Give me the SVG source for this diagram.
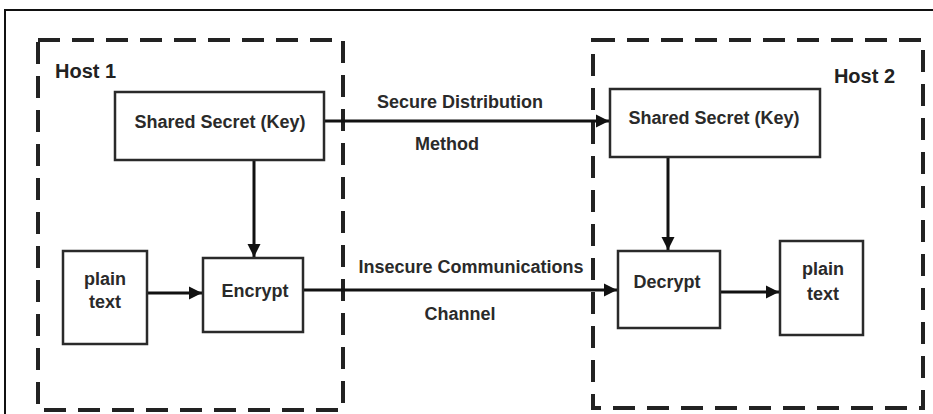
<svg xmlns="http://www.w3.org/2000/svg" width="933" height="414" viewBox="0 0 933 414">
<defs>
<style>
.box{fill:#fff;stroke:#2a2a2a;stroke-width:2.5}
.host{fill:none;stroke:#222;stroke-width:4;stroke-dasharray:22 12}
.t{font-family:"Liberation Sans",Arial,sans-serif;font-weight:bold;font-size:18px;fill:#2a2a2a;text-anchor:middle}
.h{font-family:"Liberation Sans",Arial,sans-serif;font-weight:bold;font-size:20px;fill:#222}
.c{stroke:#111;stroke-width:3;fill:none;marker-end:url(#ah)}
</style>
<marker id="ah" viewBox="0 0 10 10" refX="10" refY="5" markerWidth="4.5" markerHeight="4.5" markerUnits="strokeWidth" orient="auto">
<path d="M0,0 L10,5 L0,10 z" fill="#111"/>
</marker>
</defs>
<rect width="933" height="414" fill="#fff"/>
<path d="M5,414 V10 H933" fill="none" stroke="#111" stroke-width="2"/>
<g id="host1">
<rect class="host" x="38" y="40" width="305" height="370"/>
<text class="h" x="55" y="78">Host 1</text>
</g>
<g id="host2">
<rect class="host" x="593" y="40" width="330" height="368"/>
<text class="h" x="895" y="83" text-anchor="end">Host 2</text>
</g>
<g id="connectors">
<line class="c" x1="324" y1="121" x2="609" y2="121"/>
<line class="c" x1="254" y1="160" x2="254" y2="257"/>
<line class="c" x1="147" y1="293" x2="202" y2="293"/>
<line class="c" x1="303" y1="290" x2="617" y2="290"/>
<line class="c" x1="668" y1="157" x2="668" y2="250"/>
<line class="c" x1="720" y1="292" x2="779" y2="292"/>
<text class="t" x="460" y="108">Secure Distribution</text>
<text class="t" x="447" y="150">Method</text>
<text class="t" x="471" y="273">Insecure Communications</text>
<text class="t" x="460" y="320">Channel</text>
</g>
<g id="key1">
<rect class="box" x="115" y="92" width="209" height="68"/>
<text class="t" x="220" y="128">Shared Secret (Key)</text>
</g>
<g id="plain1">
<rect class="box" x="63" y="251" width="84" height="93"/>
<text class="t" x="105" y="285">plain</text>
<text class="t" x="105" y="308">text</text>
</g>
<g id="encrypt">
<rect class="box" x="203" y="258" width="100" height="74"/>
<text class="t" x="255" y="297">Encrypt</text>
</g>
<g id="key2">
<rect class="box" x="610" y="89" width="210" height="68"/>
<text class="t" x="714" y="124">Shared Secret (Key)</text>
</g>
<g id="decrypt">
<rect class="box" x="618" y="251" width="102" height="77"/>
<text class="t" x="667" y="288">Decrypt</text>
</g>
<g id="plain2">
<rect class="box" x="780" y="241" width="83" height="94"/>
<text class="t" x="823" y="275">plain</text>
<text class="t" x="823" y="300">text</text>
</g>
</svg>
